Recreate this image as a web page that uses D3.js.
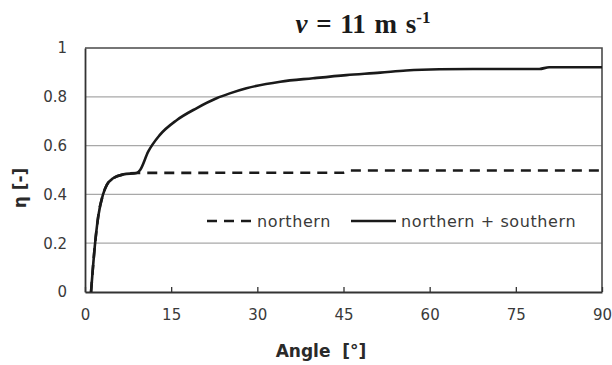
<!DOCTYPE html>
<html><head><meta charset="utf-8">
<script src="https://cdn.jsdelivr.net/npm/d3@7"></script>
<style>
html,body{margin:0;padding:0;background:#fff;}
svg{display:block;}
</style></head>
<body>
<svg id="chart" width="612" height="365"></svg>
<script>
// ---- data ----
const combinedAngle = [1.05,1.7,2.3,3.1,3.8,4.9,6.7,9.0,9.6,11.0,13.0,16.0,19.4,22.9,25.2,28.1,34.0,39.7,45.5,51.4,55.9,61.7,67.5,79.1,80.8,90];
const combinedEta   = [0,0.186,0.309,0.397,0.439,0.466,0.482,0.488,0.50,0.575,0.643,0.705,0.753,0.794,0.814,0.835,0.862,0.876,0.889,0.899,0.908,0.913,0.914,0.914,0.921,0.921];
const northernAngle = [1.05,1.7,2.3,3.1,3.8,4.9,6.7,9.0,45,46,90];
const northernEta   = [0,0.186,0.309,0.397,0.439,0.466,0.482,0.488,0.489,0.498,0.498];
const xTicks = [0,15,30,45,60,75,90];
const yTicks = [0,0.2,0.4,0.6,0.8,1];
const yTickLabels = ["0","0.2","0.4","0.6","0.8","1"];
const legendLabels = ["northern","northern + southern"];

// ---- layout ----
const svg = d3.select("#chart");
const L = 85, R = 602, T = 48, B = 292;
const x = d3.scaleLinear().domain([0,90]).range([L,R]);
const y = d3.scaleLinear().domain([0,1]).range([B,T]);
const tickFont = "'DejaVu Sans', Verdana, sans-serif";

// gridlines
svg.append("g").selectAll("line").data(yTicks.filter(d=>d>0 && d<1)).join("line")
  .attr("x1",L).attr("x2",R).attr("y1",d=>y(d)).attr("y2",d=>y(d))
  .attr("stroke","#a8a8a8").attr("stroke-width",1.2);

// border top/right
svg.append("path").attr("d",`M${L},${T}H${R}V${B}`)
  .attr("fill","none").attr("stroke","#4a4a4a").attr("stroke-width",1.6);

// x axis
const xAxis = d3.axisBottom(x).tickValues(xTicks).tickSize(-5).tickSizeOuter(0).tickPadding(17);
const gx = svg.append("g").attr("transform",`translate(0,${B})`).call(xAxis);
gx.select(".domain").attr("stroke","#333").attr("stroke-width",1.8);
gx.selectAll(".tick line").attr("stroke","#333").attr("stroke-width",1.3);
gx.selectAll(".tick text").attr("font-family",tickFont).attr("font-size",15).attr("fill","#3a3a3a");

// y axis
const yAxis = d3.axisLeft(y).tickValues(yTicks).tickFormat((d,i)=>yTickLabels[i]).tickSize(0).tickPadding(18);
const gy = svg.append("g").attr("transform",`translate(${L},0)`).call(yAxis);
gy.select(".domain").attr("stroke","#333").attr("stroke-width",1.8);
gy.selectAll(".tick text").attr("font-family",tickFont).attr("font-size",15).attr("fill","#3a3a3a");

// lines
const line = d3.line().x(d=>x(d[0])).y(d=>y(d[1])).curve(d3.curveMonotoneX);
const combined = combinedAngle.map((a,i)=>[a,combinedEta[i]]);
const northern = northernAngle.map((a,i)=>[a,northernEta[i]]);
svg.append("path").datum(combined).attr("d",line)
  .attr("fill","none").attr("stroke","#1a1a1a").attr("stroke-width",2.6).attr("stroke-linejoin","round");
svg.append("path").datum(northern).attr("d",line)
  .attr("fill","none").attr("stroke","#1a1a1a").attr("stroke-width",2.6).attr("stroke-dasharray","10,7");

// legend
const lg = svg.append("g");
lg.append("line").attr("x1",207).attr("x2",254).attr("y1",221).attr("y2",221)
  .attr("stroke","#1a1a1a").attr("stroke-width",2.6).attr("stroke-dasharray","10,7");
lg.append("text").attr("x",257).attr("y",227).text(legendLabels[0]);
lg.append("line").attr("x1",351).attr("x2",396).attr("y1",221).attr("y2",221)
  .attr("stroke","#1a1a1a").attr("stroke-width",2.6);
lg.append("text").attr("x",401).attr("y",227).text(legendLabels[1]);
lg.selectAll("text").attr("font-family",tickFont).attr("font-size",16).attr("fill","#3a3a3a").attr("letter-spacing",0.6);

// title
const title = svg.append("text").attr("x",363).attr("y",33).attr("text-anchor","middle")
  .attr("font-family","'Liberation Serif','Times New Roman',serif").attr("font-weight","bold").attr("font-size",27).attr("fill","#1a1a1a")
  .attr("word-spacing",2);
title.append("tspan").attr("font-style","italic").text("v");
title.append("tspan").text(" = 11 m s");
title.append("tspan").attr("font-size",17).attr("dy",-10).text("-1");

// axis titles
svg.append("text").attr("x",321).attr("y",357).attr("text-anchor","middle")
  .attr("font-family",tickFont).attr("font-weight","bold").attr("font-size",17).attr("fill","#2a2a2a")
  .style("white-space","pre").text("Angle  [°]");
svg.append("text").attr("transform","translate(26,188) rotate(-90)").attr("text-anchor","middle")
  .attr("font-family",tickFont).attr("font-weight","bold").attr("font-size",17).attr("fill","#2a2a2a")
  .style("white-space","pre").text("η [-]");
</script>
</body></html>
